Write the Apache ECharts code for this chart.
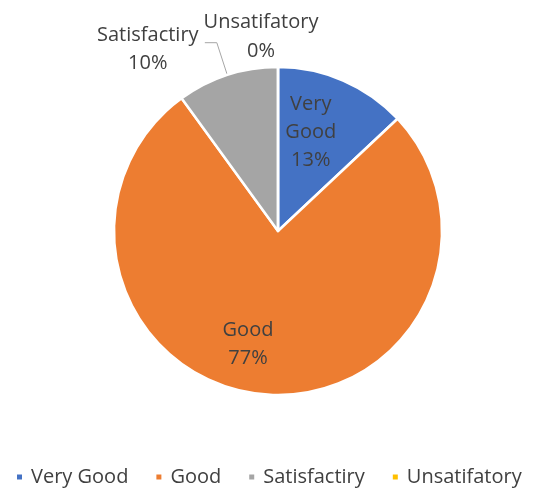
<!DOCTYPE html>
<html>
<head>
<meta charset="utf-8">
<script src="https://cdn.jsdelivr.net/npm/echarts@6/dist/echarts.min.js"></script>
<style>
  html, body { margin: 0; padding: 0; background: #fff; }
  #main { width: 555px; height: 493px; }
</style>
</head>
<body>
<div id="main"></div>
<script>
// data
var categories = ['Very Good', 'Good', 'Satisfactiry', 'Unsatifatory'];
var values = [13, 77, 10, 0];
var colors = ['#4472C4', '#ED7D31', '#A5A5A5', '#FFC000'];

var textColor = '#404040';
var fontFamily = '"Open Sans", sans-serif';
var fontSize = 20;

// per slice label tweaks (Excel puts them in odd places)
var labelCfg = [
  { position: 'inside', formatter: 'Very\nGood\n{d}%' },
  { position: 'inside', formatter: '{b}\n{d}%' },
  {
    position: 'outside',
    padding: [14, 0, 0, 0],
    formatter: '{a|{b}}\n{a|{d}%}',
    rich: { a: { width: 104, align: 'center', fontSize: fontSize, fontFamily: fontFamily, color: textColor, lineHeight: 28 } }
  },
  { show: false }
];
var lineCfg = [
  { show: false },
  { show: false },
  { show: true, length: 34, length2: 12, lineStyle: { color: '#A6A6A6', width: 1 } },
  { show: false }
];
var labelShift = [[-1, -21], [-22, 29], [0, 0], [0, 0]];

var chart = echarts.init(document.getElementById('main'));

var pieData = categories.map(function (name, i) {
  return {
    name: name,
    value: values[i],
    itemStyle: { color: colors[i] },
    label: labelCfg[i],
    labelLine: lineCfg[i]
  };
});

// zero slice gets no label from the pie itself, so put it on top by hand
var zeroIdx = values.indexOf(0);

chart.setOption({
  animation: false,
  legend: {
    top: 467,
    left: 15,
    padding: 0,
    icon: 'rect',
    itemWidth: 7,
    itemHeight: 7,
    itemGap: 26,
    textStyle: { color: textColor, fontSize: fontSize, fontFamily: fontFamily, padding: [0, 0, 0, 3] },
    data: categories
  },
  graphic: zeroIdx < 0 ? [] : [{
    type: 'text',
    x: 261,
    y: 8,
    style: {
      text: categories[zeroIdx] + '\n' + values[zeroIdx] + '%',
      align: 'center',
      fill: textColor,
      font: fontSize + 'px ' + fontFamily,
      lineHeight: 29
    }
  }],
  series: [{
    type: 'pie',
    center: [278, 231],
    radius: 164,
    startAngle: 90,
    clockwise: true,
    avoidLabelOverlap: false,
    minShowLabelAngle: 0,
    itemStyle: { borderColor: '#fff', borderWidth: 2.5 },
    label: {
      color: textColor,
      fontSize: fontSize,
      fontFamily: fontFamily,
      lineHeight: 28
    },
    labelLayout: function (p) {
      var s = labelShift[p.dataIndex];
      if (!s || (!s[0] && !s[1])) return {};
      return { dx: s[0], dy: s[1] };
    },
    emphasis: { disabled: true },
    data: pieData
  }]
});
</script>
</body>
</html>
